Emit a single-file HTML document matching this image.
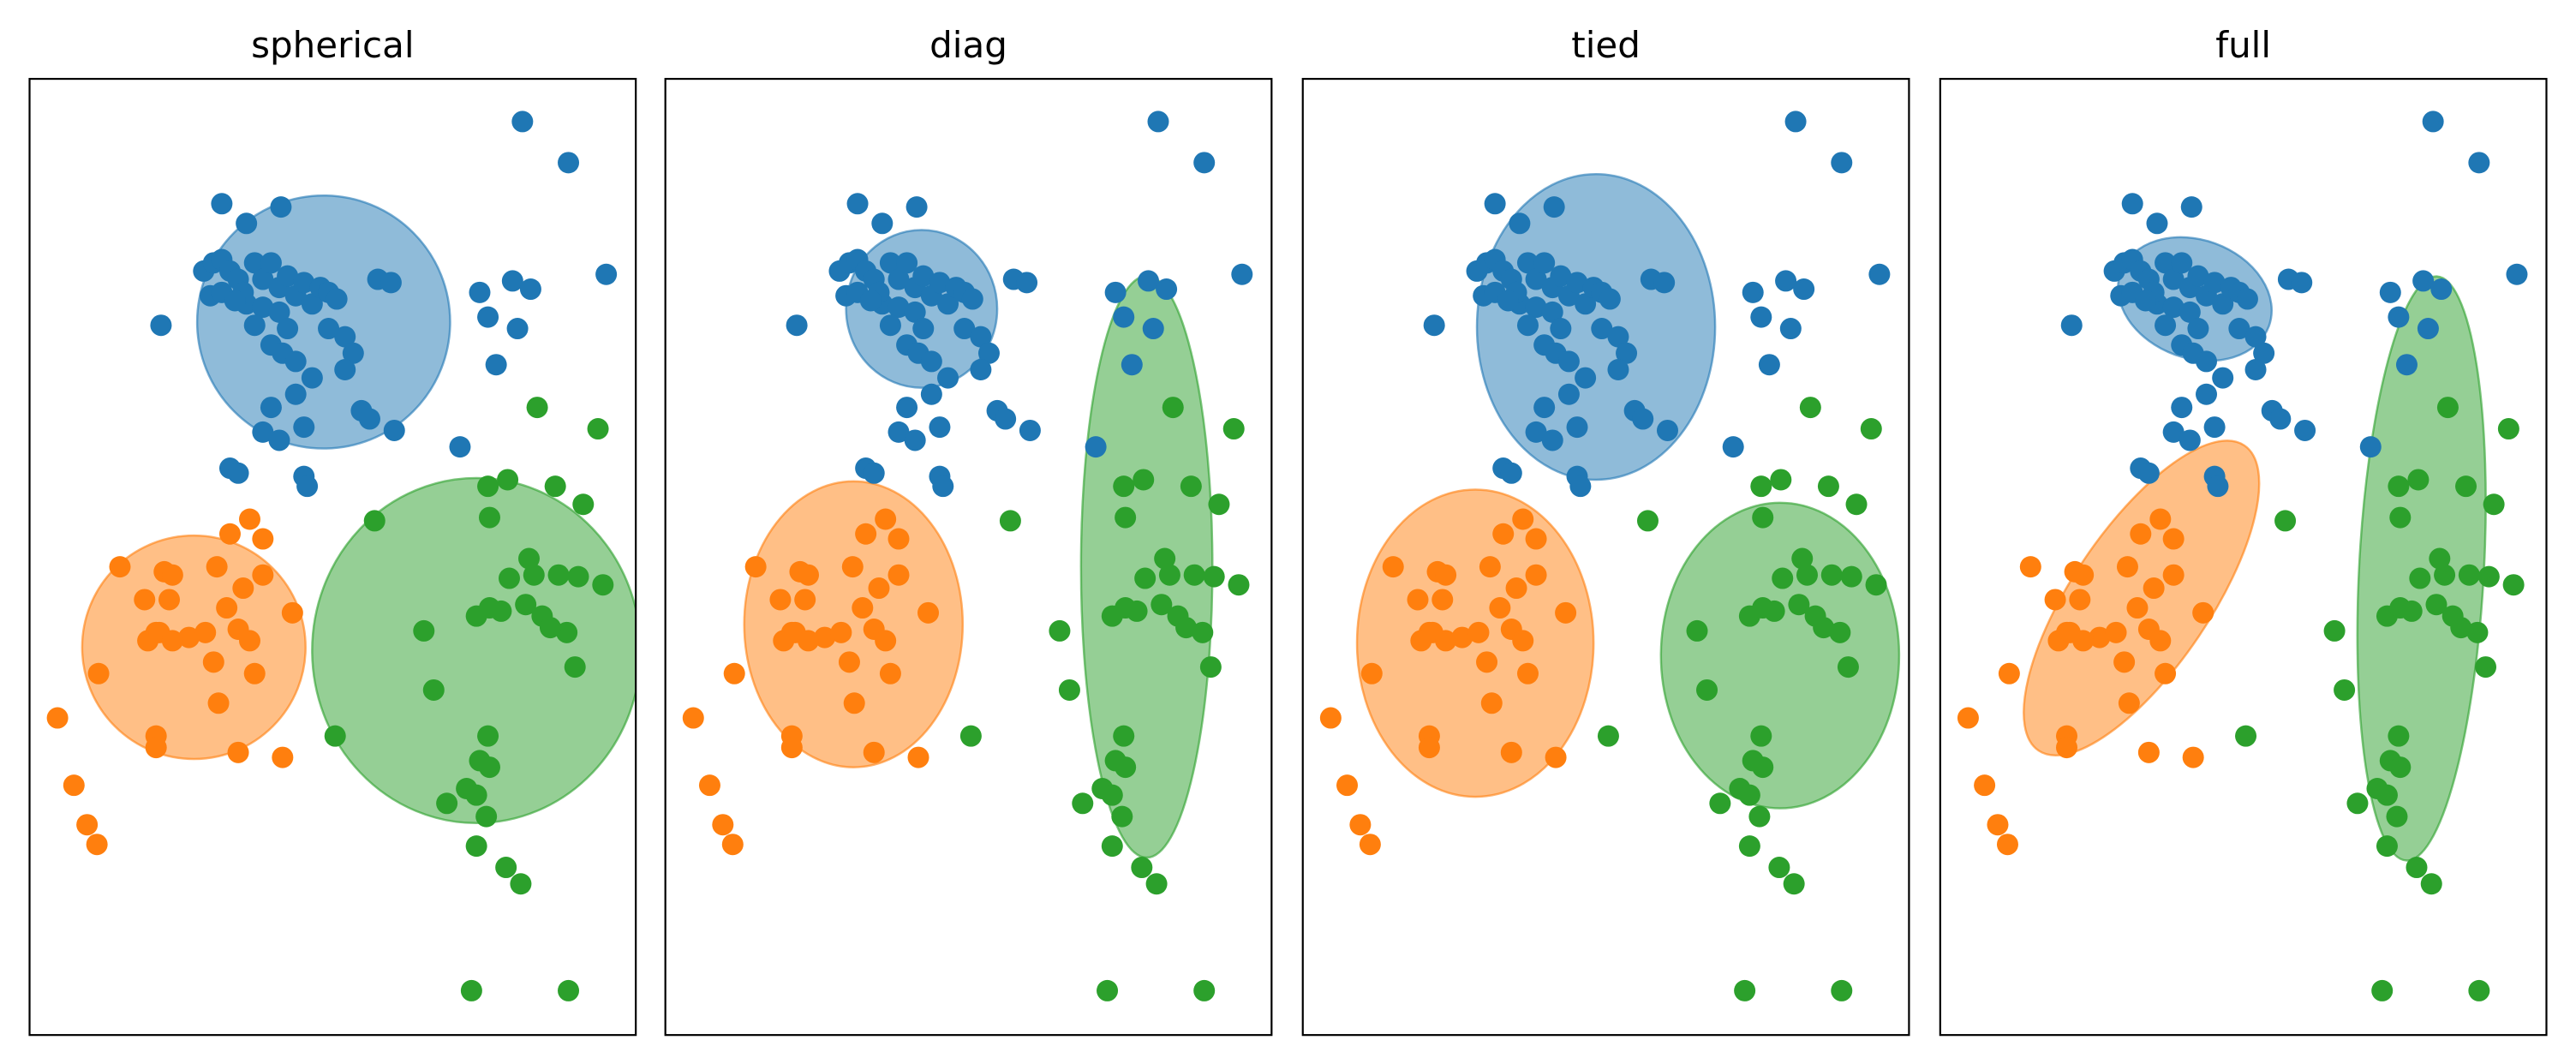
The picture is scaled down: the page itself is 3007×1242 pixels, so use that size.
<!DOCTYPE html>
<html><head><meta charset="utf-8">
<style>
html,body{margin:0;padding:0;background:#fff;}
svg{display:block;}
text{font-family:"DejaVu Sans","Liberation Sans",sans-serif;}
</style></head>
<body>
<svg id="chart" width="3007" height="1242" viewBox="0 0 3007 1242" xmlns="http://www.w3.org/2000/svg"></svg>
<script>
// Data in axis units (x: 0..369, y: 0..582 measured from top of axes)
const panelTitles = ["spherical","diag","tied","full"];
const blueX = [300,328,351,294,305,274,279,297,284,262,80,117,153,132,106,112,117,122,127,137,142,147,152,157,162,167,172,177,182,187,110,117,132,142,152,157,147,154,162,182,192,197,192,172,162,147,142,152,167,202,207,222,212,220,122,127,167,169,137,130,125];
const blueY = [26,51,119,123,128,130,145,152,174,224,150,76,78,88,117,112,110,117,122,112,122,112,127,120,132,124,137,127,130,134,132,130,137,139,142,152,162,167,172,152,157,167,177,182,192,200,215,220,212,202,207,214,122,124,237,240,242,248,150,130,135];
const orangeX = [134,122,142,55,82,87,114,142,70,85,130,120,160,77,97,72,127,134,79,42,112,137,115,77,77,127,154,17,27,35,41,107,87];
const orangeY = [268,277,280,297,300,302,297,302,317,317,310,322,325,337,340,342,335,342,337,362,355,362,380,400,407,410,413,389,430,454,466,337,342];
const greenX = [291,279,320,337,210,280,304,292,307,322,334,349,272,280,287,302,312,327,317,240,332,246,186,279,274,280,266,272,254,278,272,290,299,269,328,309,346];
const greenY = [244,248,248,259,269,267,292,304,302,302,303,308,327,322,324,320,327,337,334,336,358,372,400,400,415,419,432,436,441,449,467,480,490,555,555,200,213];
// Ellipses per panel: [cx, cy, rx, ry, angleDeg]
const blueEll = [[179,148,77,77,0],[156,140,46,48,0],[178.5,151,72.5,93,0],[155,134,48,36,20]];
const orangeEll = [[100,346,68,68,0],[114.5,332,66.5,87,0],[105,343.5,72,93.5,0],[122.5,316,112,42,-56]];
const greenEll = [[272,348,100,105,0],[293,297,40,177,0],[290.5,351,72.5,93,0],[293,298,38,178,3]];

const S = 3007/1568;
const panelLeft = [18,405,793,1181];
const panelTop = 48, panelW = 369, panelH = 582;
const colors = ["#1f77b4","#ff7f0e","#2ca02c"];
const NS = "http://www.w3.org/2000/svg";
const svg = document.getElementById("chart");
function xs(p,v){return (panelLeft[p]+v)*S;}
function ys(v){return (panelTop+v)*S;}
function mk(tag,attrs,parent){const e=document.createElementNS(NS,tag);for(const k in attrs)e.setAttribute(k,attrs[k]);(parent||svg).appendChild(e);return e;}

const defs = mk("defs",{});
for(let p=0;p<4;p++){
  const cp = mk("clipPath",{id:"clip"+p},defs);
  mk("rect",{x:xs(p,0),y:ys(0),width:panelW*S,height:panelH*S},cp);
}
const ellSets=[blueEll,orangeEll,greenEll];
const ptsX=[blueX,orangeX,greenX], ptsY=[blueY,orangeY,greenY];
const clsNames=["blue","orange","green"];
for(let p=0;p<4;p++){
  const g = mk("g",{"clip-path":"url(#clip"+p+")"});
  
  
  for(let c=0;c<3;c++){
    const e=ellSets[c][p];
    const cx=xs(p,e[0]), cy=ys(e[1]);
    const el=mk("ellipse",{cx:cx,cy:cy,rx:e[2]*S,ry:e[3]*S,transform:"rotate("+e[4]+" "+cx+" "+cy+")",fill:colors[c],"fill-opacity":0.5,stroke:colors[c],"stroke-opacity":0.6,"stroke-width":2.5},g);
    
    
  }
  for(let c=0;c<3;c++){
    for(let i=0;i<ptsX[c].length;i++){
      const pt=mk("circle",{cx:xs(p,ptsX[c][i]),cy:ys(ptsY[c][i]),r:12.5,fill:colors[c]},g);
      
      
    }
  }
  const fr=mk("rect",{x:xs(p,0),y:ys(0),width:panelW*S,height:panelH*S,fill:"none",stroke:"#000","stroke-width":2.2});
  
  
  const t=mk("text",{x:xs(p,panelW/2),y:67,"text-anchor":"middle","font-size":42,fill:"#000"});
  t.textContent=panelTitles[p];
  
  
}
</script>
</body></html>
